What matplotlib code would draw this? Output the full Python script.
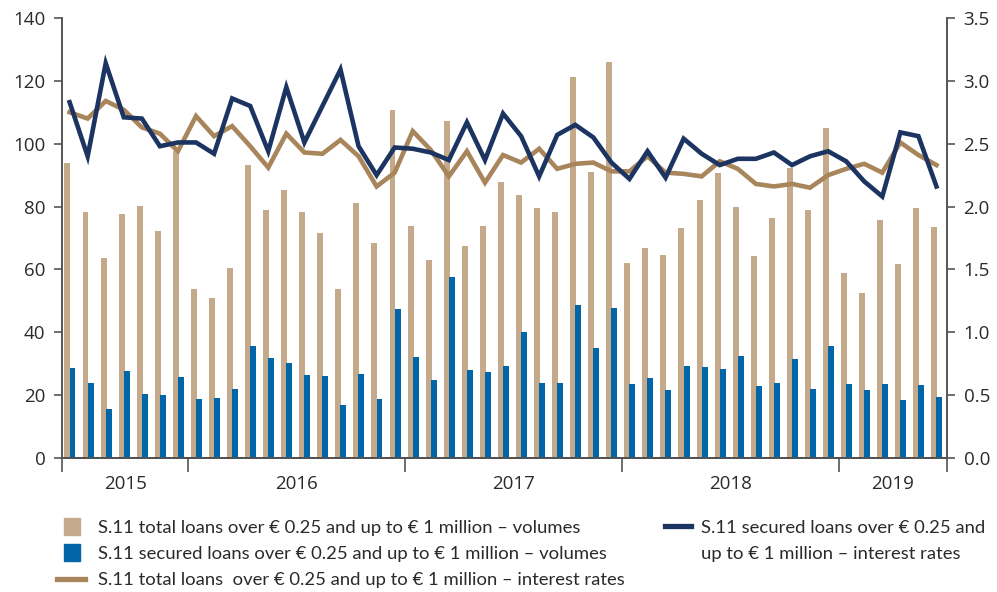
import numpy as np
import matplotlib
matplotlib.use('Agg')
import matplotlib.pyplot as plt
import matplotlib.patches as mpatches
from matplotlib.lines import Line2D
from matplotlib.legend_handler import HandlerPatch

# monthly data, Jun 2015 - Jun 2019
years = ['2015', '2016', '2017', '2018', '2019']
months_per_year = [7, 12, 12, 12, 6]

total_vol = [94, 78.3, 63.6, 77.6, 80.2, 72.2, 97.7,
             53.8, 50.9, 60.5, 93.2, 78.9, 85.3, 78.3, 71.6, 53.8, 81.1, 68.4, 110.7,
             73.8, 63.0, 107.2, 67.5, 73.8, 87.8, 83.7, 79.5, 78.3, 121.2, 91.0, 126.0,
             62.0, 66.8, 64.6, 73.2, 82.1, 90.7, 79.9, 64.3, 76.4, 92.3, 78.9, 105.0,
             58.9, 52.5, 75.7, 61.7, 79.5, 73.5]
secured_vol = [28.6, 23.9, 15.6, 27.7, 20.4, 20.0, 25.8,
               18.8, 19.1, 22.0, 35.6, 31.8, 30.2, 26.4, 26.1, 16.9, 26.7, 18.8, 47.4,
               32.1, 24.8, 57.6, 28.0, 27.4, 29.3, 40.1, 23.9, 23.9, 48.7, 35.0, 47.7,
               23.5, 25.5, 21.6, 29.3, 29.0, 28.3, 32.5, 22.9, 23.9, 31.5, 22.0, 35.6,
               23.5, 21.6, 23.5, 18.5, 23.2, 19.4]
total_rate = [2.75, 2.70, 2.84, 2.77, 2.63, 2.58, 2.44,
              2.72, 2.56, 2.64, 2.48, 2.31, 2.58, 2.43, 2.42, 2.53, 2.40, 2.16, 2.27,
              2.60, 2.45, 2.24, 2.44, 2.19, 2.41, 2.35, 2.46, 2.30, 2.34, 2.35, 2.28,
              2.28, 2.40, 2.27, 2.26, 2.24, 2.36, 2.30, 2.18, 2.16, 2.18, 2.15, 2.25,
              2.30, 2.34, 2.27, 2.51, 2.41, 2.33]
secured_rate = [2.83, 2.40, 3.14, 2.71, 2.70, 2.48, 2.51,
                2.51, 2.42, 2.86, 2.80, 2.44, 2.95, 2.51, 2.80, 3.09, 2.48, 2.25, 2.47,
                2.46, 2.43, 2.37, 2.67, 2.37, 2.74, 2.56, 2.24, 2.57, 2.65, 2.55, 2.35,
                2.22, 2.44, 2.23, 2.54, 2.42, 2.33, 2.38, 2.38, 2.43, 2.33, 2.40, 2.44,
                2.36, 2.20, 2.08, 2.59, 2.56, 2.16]

labels = ['S.11 total loans over € 0.25 and up to € 1 million – volumes',
          'S.11 secured loans over € 0.25 and up to € 1 million – volumes',
          'S.11 total loans  over € 0.25 and up to € 1 million – interest rates',
          'S.11 secured loans over € 0.25 and',
          'up to € 1 million – interest rates']

c_tan_bar = '#c4aa8b'
c_blue_bar = '#0066a8'
c_tan_line = '#a8855a'
c_navy = '#1b3461'
c_axis = '#555555'
c_text = '#2a2a2a'

plt.rcParams['font.family'] = ['Open Sans', 'DejaVu Sans']

x = np.arange(len(total_vol))

fig = plt.figure(figsize=(9.97, 5.92), dpi=100)
ax = fig.add_axes([0.0622, 0.2264, 0.8876, 0.7432])
ax2 = ax.twinx()

ax.bar(x - 0.2, total_vol, width=0.33, color=c_tan_bar, zorder=2)
ax.bar(x + 0.08, secured_vol, width=0.33, color=c_blue_bar, zorder=3)
ax2.plot(x - 0.08, total_rate, color=c_tan_line, lw=3.3, solid_joinstyle='miter')
ax2.plot(x - 0.08, secured_rate, color=c_navy, lw=3.3, solid_joinstyle='miter')

ax.set_xlim(-0.5, len(x) - 0.5)
ax.set_ylim(0, 140)
ax2.set_ylim(0, 3.5)
ax.set_yticks(np.arange(0, 141, 20))
ax2.set_yticks(np.arange(0, 3.51, 0.5))
ax2.set_yticklabels([f'{v:.1f}' for v in np.arange(0, 3.51, 0.5)])

# year separators and centred year labels
bounds = np.concatenate([[0], np.cumsum(months_per_year)]) - 0.5
ax.set_xticks(bounds)
ax.set_xticklabels([])
ax.set_xticks((bounds[:-1] + bounds[1:]) / 2, minor=True)
ax.set_xticklabels(years, minor=True)
ax.tick_params(axis='x', which='major', length=10, width=1.2, color=c_axis)
ax.tick_params(axis='x', which='minor', length=0, pad=12, labelsize=13.5, labelcolor=c_text)
ax.tick_params(axis='y', length=6, width=1.2, color=c_axis, labelsize=13.5, labelcolor=c_text, pad=6)
ax2.tick_params(axis='y', length=6, width=1.2, color=c_axis, labelsize=13.5, labelcolor=c_text, pad=6)

for a in (ax, ax2):
    a.spines['top'].set_visible(False)
    for s in ('left', 'right', 'bottom'):
        a.spines[s].set_color(c_axis)
        a.spines[s].set_linewidth(1.2)
ax.spines['bottom'].set_color('#222222')


def square_patch(legend, orig_handle, xdescent, ydescent, width, height, fontsize):
    w = width * 0.55
    return mpatches.Rectangle((width * 0.54 - w / 2 - xdescent, -ydescent - height * 0.14),
                              w, height * 1.28)


leg_font = {'family': ['Lato', 'DejaVu Sans'], 'size': 13.3}
h1 = [mpatches.Patch(color=c_tan_bar), mpatches.Patch(color=c_blue_bar),
      Line2D([], [], color=c_tan_line, lw=3.8)]
leg1 = fig.legend(h1, labels[:3], loc='upper left', bbox_to_anchor=(0.057, 0.122),
                  frameon=False, prop=leg_font, borderpad=0, borderaxespad=0,
                  handlelength=1.55, handletextpad=0.67, labelspacing=0.56,
                  handler_map={mpatches.Patch: HandlerPatch(patch_func=square_patch)})
h2 = [Line2D([], [], color=c_navy, lw=3.8), Line2D([], [], color='none')]
leg2 = fig.legend(h2, labels[3:], loc='upper left', bbox_to_anchor=(0.667, 0.122),
                  frameon=False, prop=leg_font, borderpad=0, borderaxespad=0,
                  handlelength=1.4, handletextpad=0.55, labelspacing=0.56)
for leg in (leg1, leg2):
    for t in leg.get_texts():
        t.set_color(c_text)

plt.savefig('out.png', dpi=100)
